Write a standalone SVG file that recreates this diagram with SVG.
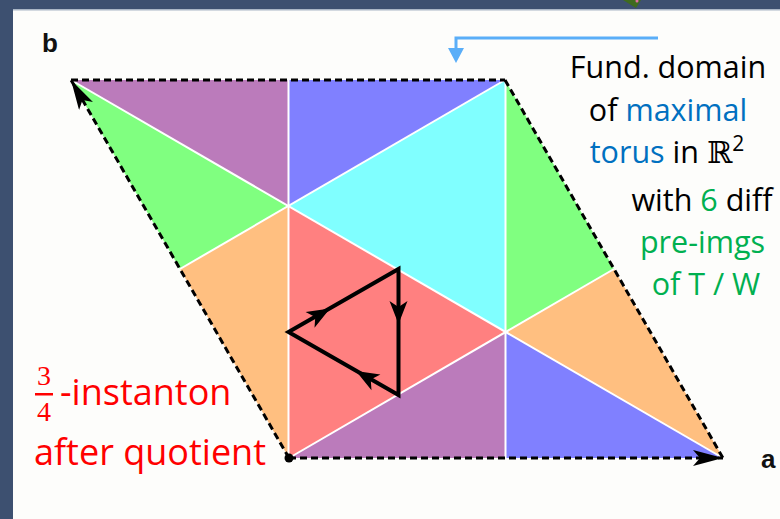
<svg xmlns="http://www.w3.org/2000/svg" xmlns:xlink="http://www.w3.org/1999/xlink" width="780" height="519" viewBox="0 0 780 519">
<style>
.tile{stroke:none}
.sep{stroke:#ffffff;stroke-width:2;fill:none}
.edge{stroke:#000;stroke-width:3;fill:none;stroke-dasharray:7 4}
.loop{stroke:#000;stroke-width:4;fill:none;stroke-linejoin:miter}
.lbl{font-family:"Liberation Sans",Arial,sans-serif;font-weight:bold;font-size:26px;fill:#111}
.note{font-family:"Open Sans","DejaVu Sans",sans-serif;font-size:30.5px;fill:#000;text-anchor:middle}
.red{font-family:"Open Sans","DejaVu Sans",sans-serif;font-size:36px;fill:#ff0000}
.frac{font-family:"Liberation Serif","DejaVu Serif",serif;font-size:28px;fill:#ff0000;text-anchor:middle}
.blue{fill:#0070c0}
.green{fill:#00b050}
</style>
<defs>
<marker id="bigArrow" markerUnits="userSpaceOnUse" markerWidth="32" markerHeight="18" refX="30" refY="8" orient="auto">
<path d="M0,0 L30,8 L0,16 L7,8 Z" fill="#000"/>
</marker>
<path id="smallHead" d="M0,0 L-23,-9 L-17,0 L-23,9 Z" fill="#000"/>
</defs>

<g id="background">
<rect x="0" y="0" width="780" height="519" fill="#3d5070"/>
<rect x="13" y="10" width="767" height="509" fill="#fdfdfb"/>
<rect x="13" y="9" width="767" height="1.5" fill="#aab6c6"/>
<polygon points="623,0 641,0 636,8" fill="#3f6b1f"/>
<circle cx="637" cy="1" r="1.5" fill="#e070a0"/>
</g>

<g id="tiles">
<polygon id="tile-purple-1" class="tile" points="71,80 288,80 288.3,206" fill="#bb7bbb"/>
<polygon id="tile-blue-1" class="tile" points="288,80 505,80 288.3,206" fill="#8080ff"/>
<polygon id="tile-cyan" class="tile" points="505,80 505.7,332 288.3,206" fill="#80ffff"/>
<polygon id="tile-red" class="tile" points="289,458 288.3,206 505.7,332" fill="#ff8080"/>
<polygon id="tile-orange-1" class="tile" points="289,458 180,269 288.3,206" fill="#ffbf80"/>
<polygon id="tile-green-1" class="tile" points="180,269 71,80 288.3,206" fill="#80ff80"/>
<polygon id="tile-purple-2" class="tile" points="289,458 506,458 505.7,332" fill="#bb7bbb"/>
<polygon id="tile-blue-2" class="tile" points="506,458 723,458 505.7,332" fill="#8080ff"/>
<polygon id="tile-orange-2" class="tile" points="723,458 614,269 505.7,332" fill="#ffbf80"/>
<polygon id="tile-green-2" class="tile" points="614,269 505,80 505.7,332" fill="#80ff80"/>
</g>

<g id="separators">
<line class="sep" x1="288.5" y1="80" x2="288.5" y2="458"/>
<line class="sep" x1="505.5" y1="80" x2="505.5" y2="458"/>
<line class="sep" x1="71" y1="80" x2="723" y2="458"/>
<line class="sep" x1="505" y1="80" x2="180" y2="269"/>
<line class="sep" x1="289" y1="458" x2="614" y2="269"/>
</g>

<g id="connectors">
<line class="edge" x1="71" y1="80" x2="505" y2="80"/>
<line class="edge" x1="505" y1="80" x2="723" y2="458"/>
<line class="edge" x1="289" y1="458" x2="723" y2="458" marker-end="url(#bigArrow)"/>
<line class="edge" x1="289" y1="458" x2="71" y2="80" marker-end="url(#bigArrow)"/>
<circle cx="289" cy="458" r="4.5" fill="#000"/>
<path d="M658,38 H456 V50" fill="none" stroke="#5aaef8" stroke-width="3"/>
<polygon points="448,48 464,48 456,63" fill="#5aaef8"/>
</g>

<g id="loop">
<polygon class="loop" points="288.5,332 398.5,269 398.5,395"/>
<use xlink:href="#smallHead" transform="translate(330,308.5) rotate(-29.8)"/>
<use xlink:href="#smallHead" transform="translate(398.5,324) rotate(90)"/>
<use xlink:href="#smallHead" transform="translate(356,371) rotate(209.8)"/>
</g>

<g id="axis-labels">
<text class="lbl" x="42" y="52">b</text>
<text class="lbl" x="761" y="468">a</text>
</g>

<g id="note">
<text class="note" x="668" y="78">Fund. domain</text>
<text class="note" x="668" y="121">of <tspan class="blue">maximal</tspan></text>
<text class="note" x="667" y="163"><tspan class="blue">torus</tspan> in <tspan font-family="'DejaVu Serif',serif">ℝ</tspan><tspan font-size="21" dy="-12">2</tspan></text>
<text class="note" x="702" y="211">with <tspan class="green">6</tspan> diff</text>
<text class="note green" x="702.5" y="253">pre-imgs</text>
<text class="note green" x="706" y="295">of T / W</text>
</g>

<g id="instanton-label">
<text class="frac" x="44" y="385">3</text>
<rect x="35" y="393" width="18" height="2.5" fill="#ff0000"/>
<text class="frac" x="44" y="421">4</text>
<text class="red" x="60" y="405">-instanton</text>
<text class="red" x="34" y="465">after quotient</text>
</g>
</svg>
